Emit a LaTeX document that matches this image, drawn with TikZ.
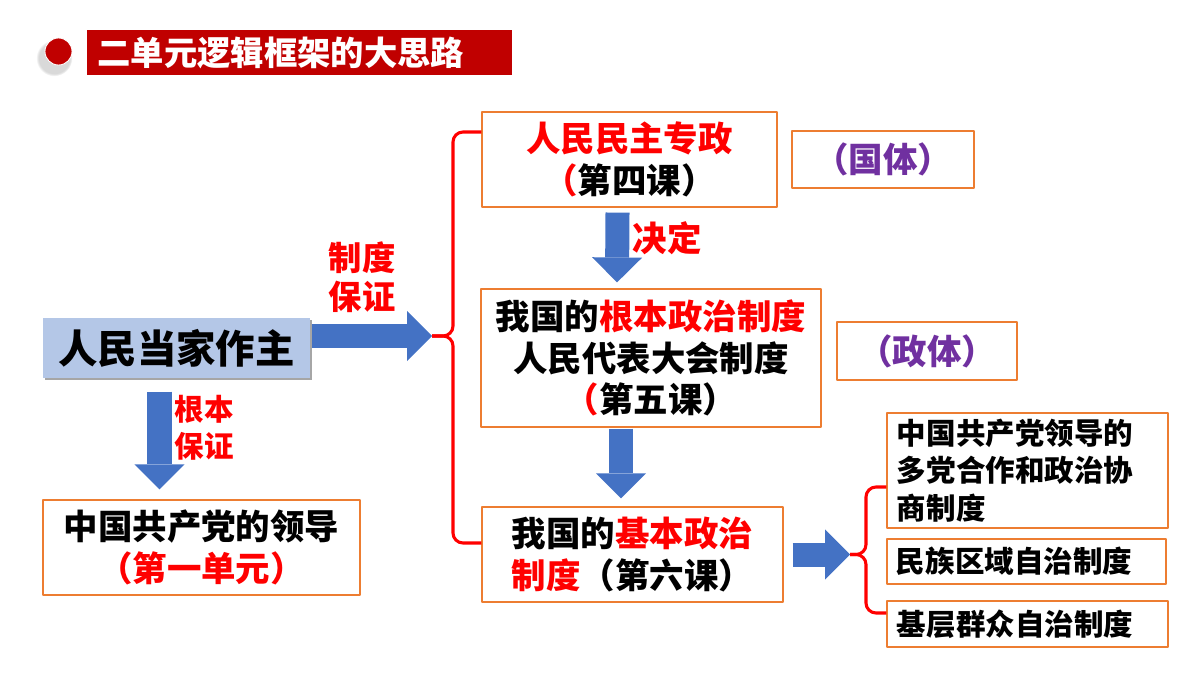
\documentclass[tikz,border=0pt]{standalone}
\usepackage{fontspec}
\setmainfont{Noto Sans CJK SC}
\usetikzlibrary{arrows.meta,shadows,calc}

\begin{document}
\begin{tikzpicture}[x=0.025cm, y=-0.025cm, line join=round,
  box/.style={draw=obox, line width=0.8pt, inner sep=0pt, align=center,
              font=\bfseries\fontsize{24.5}{29.5}\selectfont},
  sidebox/.style={box, text width=6.525cm, align=left,
              font=\bfseries\fontsize{21}{26.5}\selectfont},
  fat/.style={draw=ablue, line width=6mm,
              -{Triangle[length=6.25mm, width=12.5mm, line width=0pt]}},
  brace/.style={draw=tred, line width=2.2pt, rounded corners=2.5mm},
  lbl/.style={text=tred, align=center, inner sep=0pt,
              font=\bfseries\fontsize{23.7}{27.7}\selectfont}]
  \definecolor{tred}{HTML}{FF0000}
  \definecolor{dred}{HTML}{C00000}
  \definecolor{ablue}{HTML}{4472C4}
  \definecolor{lblue}{HTML}{B4C7E7}
  \definecolor{obox}{HTML}{ED7D31}
  \definecolor{tpurple}{HTML}{7030A0}
  \useasboundingbox (0,0) rectangle (1200,675);
  % title bar
  \node[circle, fill=dred, draw=white, line width=0.6pt, minimum size=0.675cm, inner sep=0pt,
        circular drop shadow={shadow xshift=-0.8mm, shadow yshift=-1.2mm, shadow scale=1.35, opacity=0.3}] (dot) at (58.5,51.5) {};
  \node[fill=dred, text=white, inner sep=0pt, minimum width=10.625cm, minimum height=1.125cm,
        text width=10.1cm, align=left, font=\bfseries\fontsize{23.7}{28}\selectfont] (title) at (299.5,52.5) {二单元逻辑框架的大思路};
  % boxes
  \node[box, draw=none, fill=lblue, minimum width=6.675cm, minimum height=1.5cm,
        drop shadow={shadow xshift=0.6mm, shadow yshift=-0.6mm, fill=black, opacity=0.35},
        font=\bfseries\fontsize{28}{32}\selectfont] (home) at (176.5,348) {人民当家作主};
  \node[box, minimum width=7.925cm, minimum height=2.375cm] (party) at (201.5,547.5) {中国共产党的领导\\{\color{tred}（第一单元）}};
  \node[box, minimum width=7.375cm, minimum height=2.375cm] (dict) at (629.5,159.5) {{\color{tred}人民民主专政}\\{\color{tred}（}第四课）};
  \node[box, minimum width=8.5cm, minimum height=3.45cm] (npc) at (651,358) {我国的{\color{tred}根本政治制度}\\人民代表大会制度\\{\color{tred}（}第五课）};
  \node[box, minimum width=7.525cm, minimum height=2.375cm] (basic) at (632.5,554.5) {我国的{\color{tred}基本政治}\\{\color{tred}制度}（第六课）};
  \node[box, text=tpurple, minimum width=4.55cm, minimum height=1.425cm] (guoti) at (883,159.5) {（国体）};
  \node[box, text=tpurple, minimum width=4.5cm, minimum height=1.45cm] (zhengti) at (927,351) {（政体）};
  \node[sidebox, minimum width=7.025cm, minimum height=2.875cm] (cpc) at (1027.5,470.5) {中国共产党领导的\\多党合作和政治协\\商制度};
  \node[sidebox, minimum width=6.975cm, minimum height=1.125cm] (ethnic) at (1026.5,561.5) {民族区域自治制度};
  \node[sidebox, minimum width=7.025cm, minimum height=1.15cm] (grass) at (1027.5,624) {基层群众自治制度};
  % braces
  \coordinate (bt) at (432,336);
  \coordinate (st) at (850,554.5);
  \draw[brace] (dict.west |- 0,132) -- (453,132) -- (453,336) -- (bt);
  \draw[brace] (basic.west |- 0,543) -- (453,543) -- (453,336) -- (bt);
  \draw[brace] (cpc.west |- 0,487) -- (866,487) -- (866,554.5) -- (st);
  \draw[brace] (grass.west |- 0,613) -- (866,613) -- (866,554.5) -- (st);
  % block arrows
  \draw[fat] ($(home.east)+(1,-12)$) -- (bt);
  \draw[fat] ($(home.south)+(-17,13)$) -- ($(party.north)+(-42,-10)$);
  \draw[fat] ($(dict.south)+(-12,5)$) -- ($(npc.north)+(-34,-6)$);
  \draw[fat] ($(npc.south)+(-30,1)$) -- ($(basic.north)+(-11.5,-8)$);
  \draw[fat] ($(basic.east)+(9,0)$) -- (st);
  % labels
  \node[lbl] (zhidu) at (362,277) {制度\\保证};
  \node[lbl, font=\bfseries\fontsize{21}{26}\selectfont] (genben) at (204,428) {根本\\保证};
  \node[lbl, font=\bfseries\fontsize{24.5}{28}\selectfont] (jueding) at (667,238) {决定};
\end{tikzpicture}
\end{document}
